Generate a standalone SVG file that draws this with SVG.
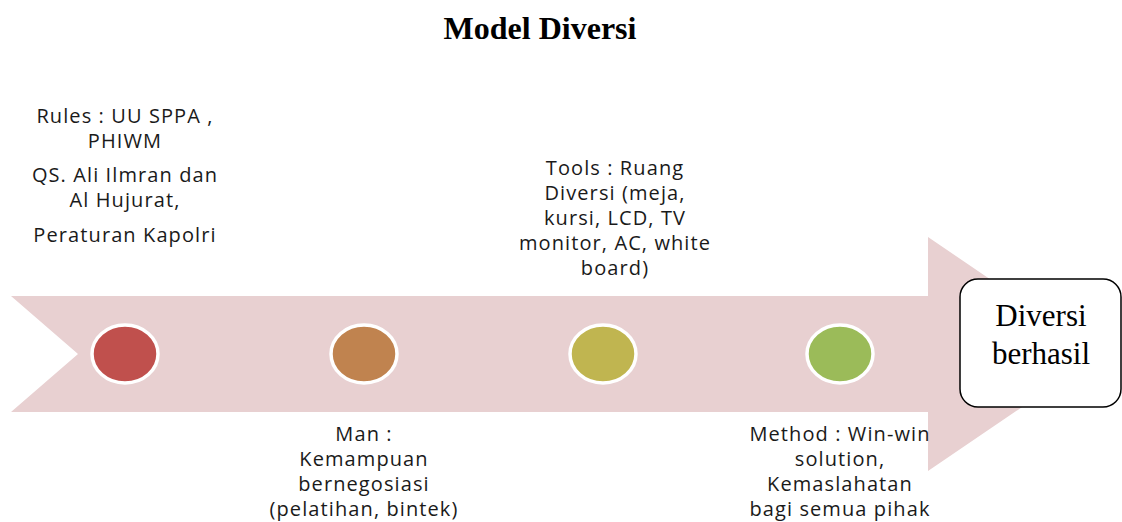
<svg xmlns="http://www.w3.org/2000/svg" width="1122" height="522" viewBox="0 0 1122 522">
<style>
.t{font-family:"Open Sans","Liberation Sans",sans-serif;font-size:20px;letter-spacing:1.1px;fill:#1a1a1a;text-anchor:middle}
.dot{stroke:#fff;stroke-width:3.5}
.title{font-family:"Liberation Serif",serif;font-size:32px;font-weight:bold;text-anchor:middle;fill:#000}
.box{font-family:"Liberation Serif",serif;font-size:31px;text-anchor:middle;fill:#000}
</style>
<rect width="1122" height="522" fill="#fff"/>
<text class="title" x="540" y="39">Model Diversi</text>
<g id="arrow">
<polygon points="11,296 928,296 928,237 1100,354 928,471 928,412 11,412 78,354" fill="#E8D0D1"/>
</g>
<g id="rules">
<ellipse class="dot" cx="125" cy="354" rx="33" ry="29" fill="#C0504D"/>
<text class="t"><tspan x="125" y="123">Rules : UU SPPA ,</tspan><tspan x="125" y="148">PHIWM</tspan><tspan x="125" y="182">QS. Ali Ilmran dan</tspan><tspan x="125" y="207">Al Hujurat,</tspan><tspan x="125" y="242">Peraturan Kapolri</tspan></text>
</g>
<g id="man">
<ellipse class="dot" cx="364" cy="354" rx="33" ry="29" fill="#C0834F"/>
<text class="t"><tspan x="364" y="441">Man :</tspan><tspan x="364" y="466">Kemampuan</tspan><tspan x="364" y="491">bernegosiasi</tspan><tspan x="364" y="516">(pelatihan, bintek)</tspan></text>
</g>
<g id="tools">
<ellipse class="dot" cx="603" cy="354" rx="33" ry="29" fill="#C0B550"/>
<text class="t"><tspan x="615" y="175">Tools :  Ruang</tspan><tspan x="615" y="200">Diversi (meja,</tspan><tspan x="615" y="225">kursi, LCD, TV</tspan><tspan x="615" y="250">monitor, AC, white</tspan><tspan x="615" y="275">board)</tspan></text>
</g>
<g id="method">
<ellipse class="dot" cx="840" cy="354" rx="33" ry="29" fill="#9BBB59"/>
<text class="t"><tspan x="840" y="441">Method : Win-win</tspan><tspan x="840" y="466">solution,</tspan><tspan x="840" y="491">Kemaslahatan</tspan><tspan x="840" y="516">bagi semua pihak</tspan></text>
</g>
<g id="result">
<rect x="960" y="279" width="161" height="128" rx="18" fill="#fff" stroke="#000" stroke-width="1.5"/>
<text class="box"><tspan x="1041" y="326">Diversi</tspan><tspan x="1041" y="364">berhasil</tspan></text>
</g>
<g id="connectors"></g>
</svg>
